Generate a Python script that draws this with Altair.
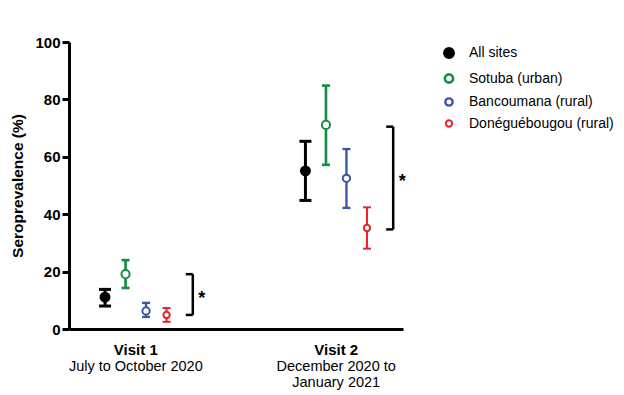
import altair as alt
import pandas as pd

# ---- data ----
visits = ["Visit 1", "Visit 2"]
visit_periods = [["July to October 2020"], ["December 2020 to", "January 2021"]]
series = ["All sites", "Sotuba (urban)", "Bancoumana (rural)", "Donéguébougou (rural)"]
colors = ["#000000", "#1a8c45", "#3b55a5", "#e8232b"]

estimate_v1 = [11.1, 19.1, 6.3, 4.9]
lower_v1 = [8.0, 14.3, 4.2, 2.5]
upper_v1 = [13.8, 24.0, 9.1, 7.3]

estimate_v2 = [55.1, 71.1, 52.5, 35.2]
lower_v2 = [44.8, 57.2, 42.2, 28.0]
upper_v2 = [65.4, 84.8, 62.7, 42.4]

bracket_low = [4.9, 34.7]
bracket_high = [19.1, 70.5]
significance = ["*", "*"]

y_ticks = [0, 20, 40, 60, 80, 100]

# ---- layout helpers (x scale: visits at 1 and 4 on a 0..5 domain) ----
W, H = 334, 287
visit_center = [1.0, 4.0]
spacing = 0.307
px = 5.0 / W  # data units per pixel

rows = []
ests = [estimate_v1, estimate_v2]
lows = [lower_v1, lower_v2]
highs = [upper_v1, upper_v2]
for v in range(2):
    for i, s in enumerate(series):
        pos = visit_center[v] + (i - 1.5) * spacing
        half = (6 if i == 0 else 4) * px
        rows.append(dict(visit=visits[v], series=s, pos=pos, cap_l=pos - half, cap_r=pos + half,
                         est=ests[v][i], lo=lows[v][i], hi=highs[v][i]))
df = pd.DataFrame(rows)

br = pd.DataFrame(dict(
    bx=[c + 57 * px for c in visit_center],
    arm=[c + 50 * px for c in visit_center],
    sx=[c + 66 * px for c in visit_center],
    lo=bracket_low, hi=bracket_high,
    mid=[(a + b) / 2 for a, b in zip(bracket_low, bracket_high)],
    star=significance))

lab = pd.DataFrame(dict(x=visit_center, title=visits, period=visit_periods))

xs = alt.Scale(domain=[0, 5], nice=False, zero=False)
ys = alt.Scale(domain=[0, 100], nice=False)
color_s = alt.Scale(domain=series, range=colors)
sw_s = alt.Scale(domain=series, range=[3, 2, 2, 2])

base = alt.Chart(df)

x_axis = alt.Axis(title=None, labels=False, ticks=False, grid=False, domainWidth=3, domainColor="black")
y_axis = alt.Axis(title="Seroprevalence (%)", values=y_ticks, grid=False, domainWidth=3, domainColor="black",
                  tickWidth=3, tickColor="black", tickSize=7, labelFontWeight="bold", labelFontSize=15,
                  labelColor="black", labelPadding=2, titleFontSize=15.5, titleFontWeight="bold",
                  titleColor="black", titlePadding=9)

legend = alt.Legend(title=None, orient="none", legendX=373, legendY=4, labelFontSize=14,
                    labelFont="Liberation Sans", labelColor="black", labelOffset=13, labelLimit=300,
                    rowPadding=4.5, symbolStrokeWidth=2, symbolType="circle")
fill_s = alt.Scale(domain=series, range=["black", "white", "white", "white"])
size_s = alt.Scale(domain=series, range=[80, 40, 40, 40])

bars = base.mark_rule().encode(
    x=alt.X("pos:Q", scale=xs, axis=x_axis),
    y=alt.Y("lo:Q", scale=ys, axis=y_axis),
    y2="hi:Q",
    color=alt.Color("series:N", scale=color_s, legend=legend),
    strokeWidth=alt.StrokeWidth("series:N", scale=sw_s, legend=None),
)
cap_hi = base.mark_rule().encode(
    x="cap_l:Q", x2="cap_r:Q", y="hi:Q",
    color=alt.Color("series:N", scale=color_s, legend=legend),
    strokeWidth=alt.StrokeWidth("series:N", scale=sw_s, legend=None),
)
cap_lo = base.mark_rule().encode(
    x="cap_l:Q", x2="cap_r:Q", y="lo:Q",
    color=alt.Color("series:N", scale=color_s, legend=legend),
    strokeWidth=alt.StrokeWidth("series:N", scale=sw_s, legend=None),
)
points = base.mark_point(filled=False, strokeWidth=2, opacity=1).encode(
    x="pos:Q", y="est:Q",
    color=alt.Color("series:N", scale=color_s, legend=legend),
    fill=alt.Fill("series:N", scale=fill_s, legend=legend),
    size=alt.Size("series:N", scale=size_s, legend=legend),
)

bchart = alt.Chart(br)
b_vert = bchart.mark_rule(color="black", strokeWidth=2.5).encode(x="bx:Q", y="lo:Q", y2="hi:Q")
b_top = bchart.mark_rule(color="black", strokeWidth=2.5).encode(x="arm:Q", x2="bx:Q", y="hi:Q")
b_bot = bchart.mark_rule(color="black", strokeWidth=2.5).encode(x="arm:Q", x2="bx:Q", y="lo:Q")
b_star = bchart.mark_text(fontSize=18, fontWeight="bold", font="Liberation Sans", dy=4, align="center",
                          baseline="middle", color="black").encode(x="sx:Q", y="mid:Q", text="star:N")

lchart = alt.Chart(lab)
t_title = lchart.mark_text(fontSize=15, fontWeight="bold", font="Liberation Sans", baseline="middle",
                           color="black").encode(x="x:Q", y=alt.value(H + 21), text="title:N")
t_period = lchart.mark_text(fontSize=14.5, font="Liberation Sans", baseline="top", lineHeight=16,
                            color="black").encode(x="x:Q", y=alt.value(H + 31), text="period")

chart = alt.layer(bars, cap_hi, cap_lo, points, b_vert, b_top, b_bot, b_star, t_title, t_period).properties(
    width=W, height=H,
    autosize=alt.AutoSizeParams(type="none"),
    padding={"left": 61, "top": 34, "right": 213, "bottom": 66},
).configure_view(stroke=None).configure_axis(labelFont="Liberation Sans", titleFont="Liberation Sans")

chart.save("out.html", embed_options={"renderer": "svg", "actions": False})
